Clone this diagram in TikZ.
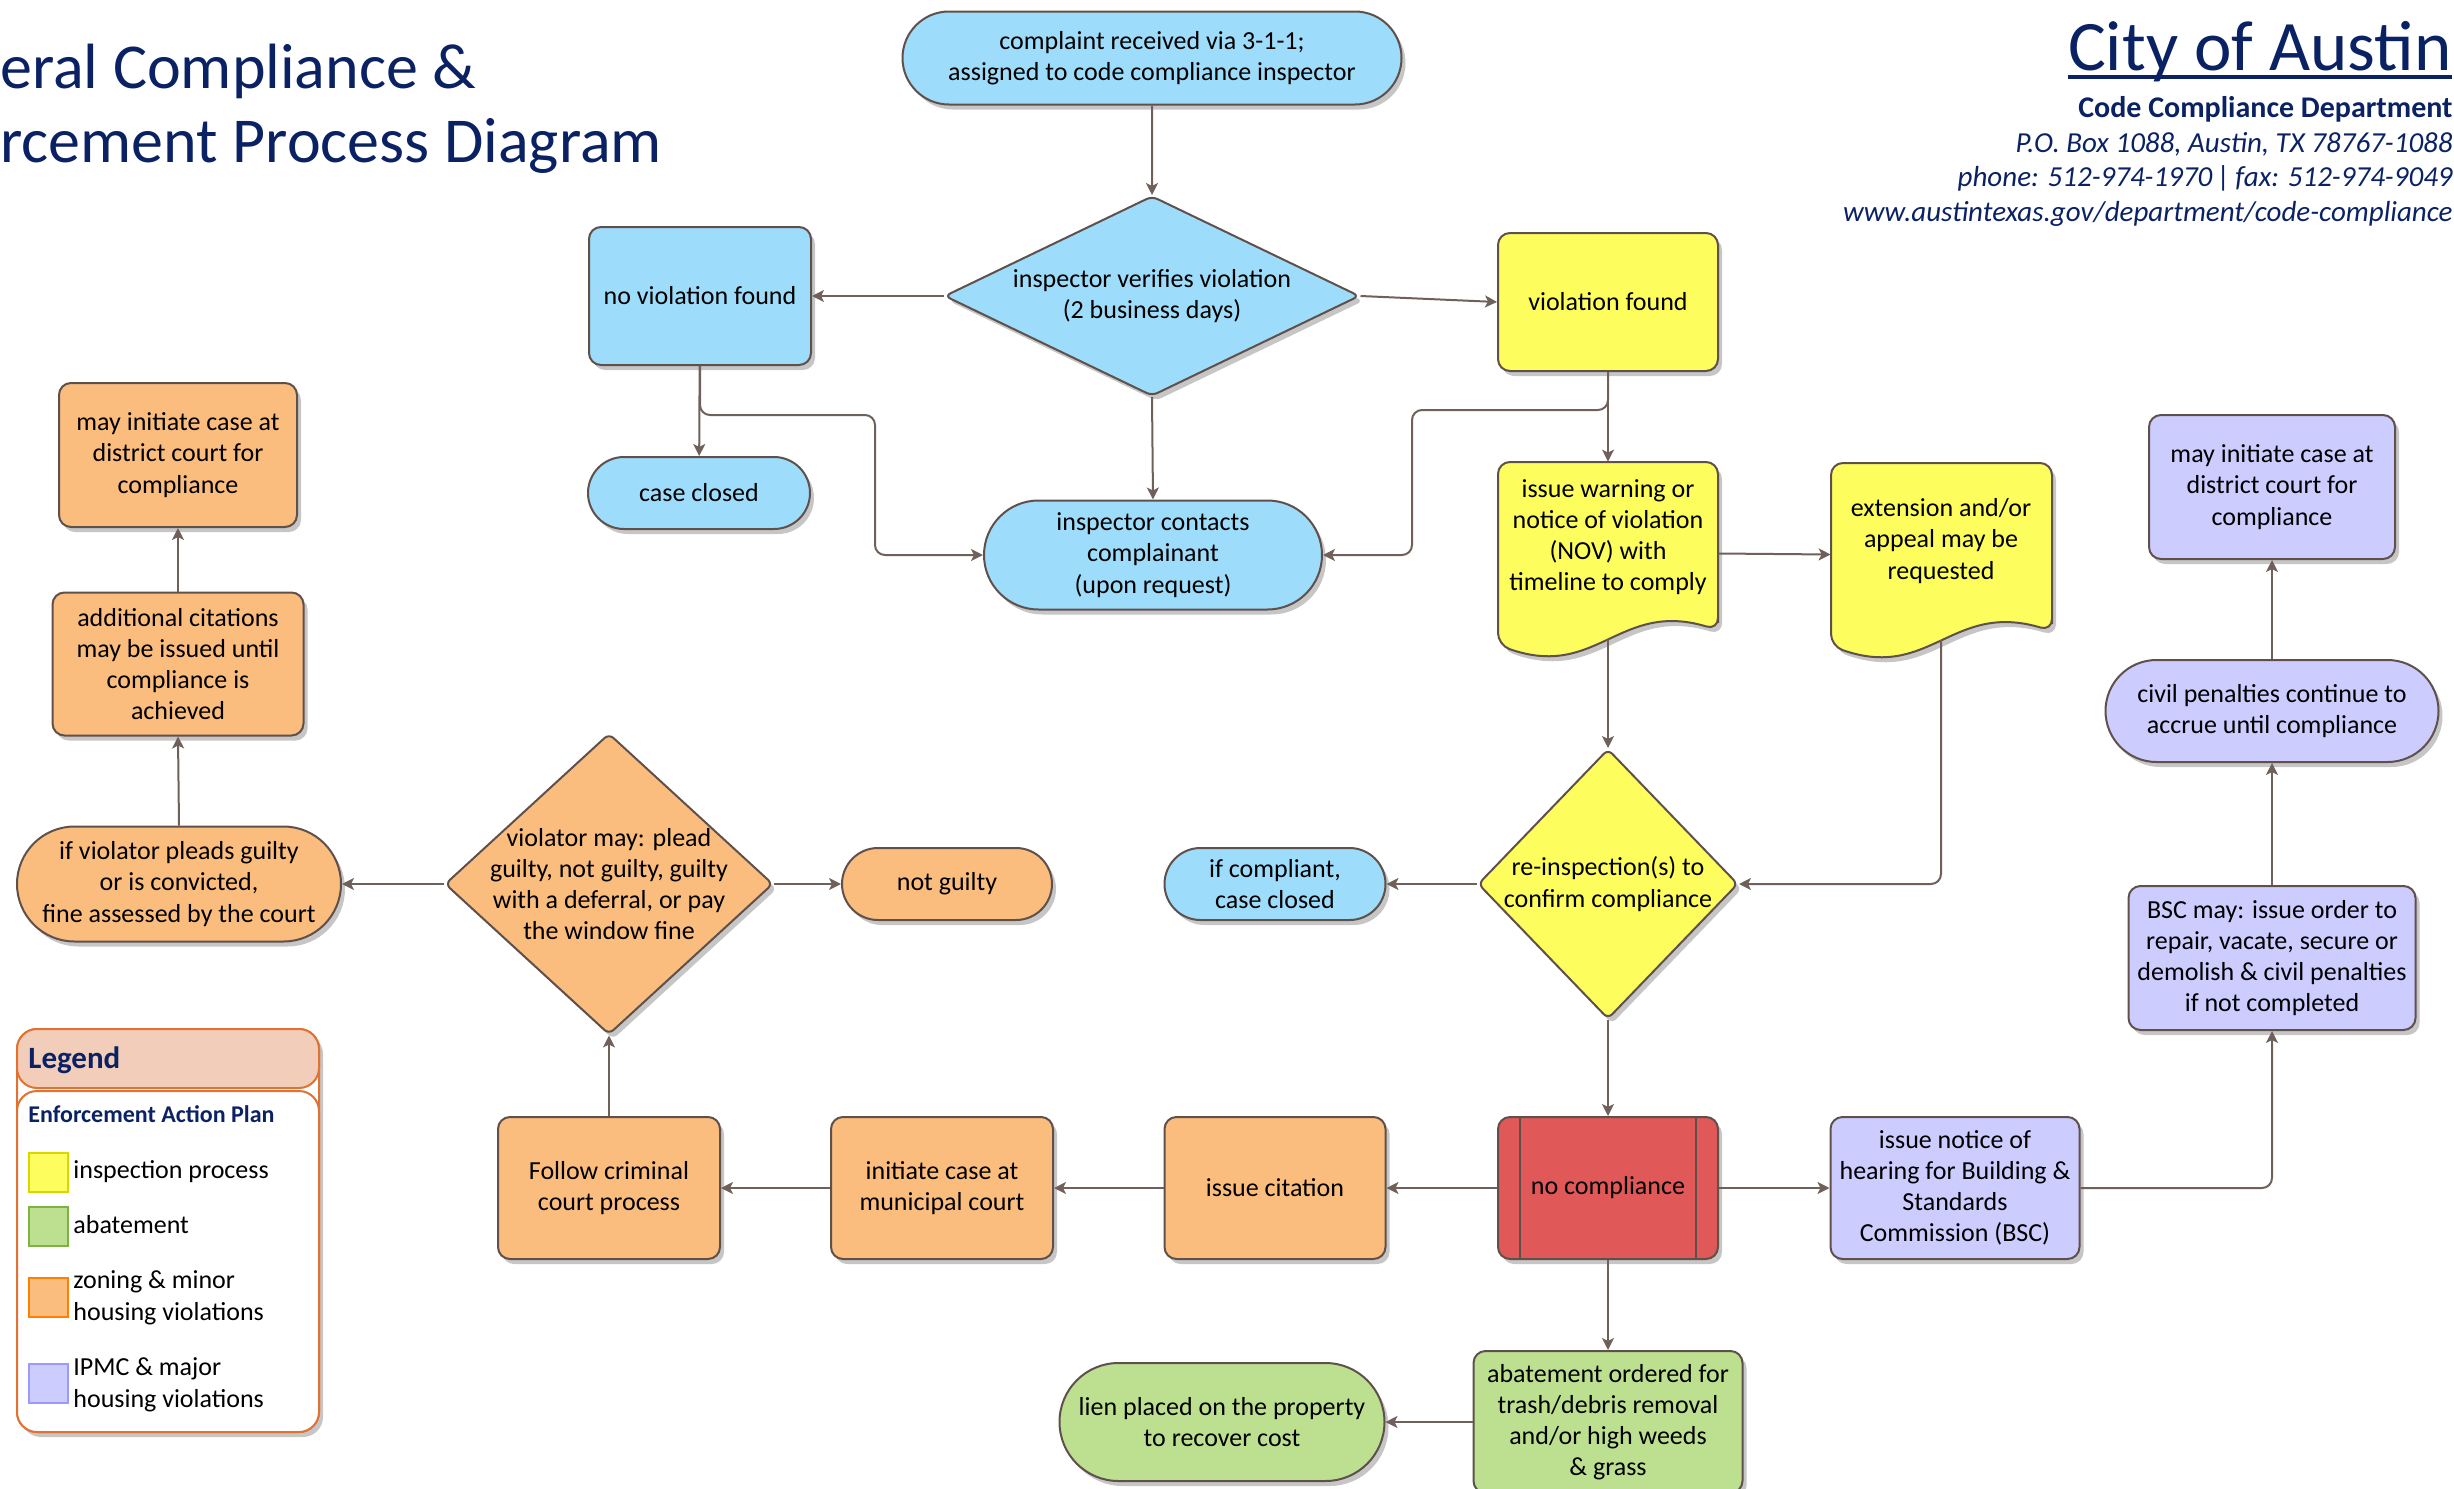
\documentclass[tikz,border=0pt]{standalone}
\usepackage{fontspec}
\setmainfont{Carlito}
\usetikzlibrary{shapes.geometric,shapes.misc,arrows.meta,shadows}
\definecolor{navy}{RGB}{10,34,100}
\definecolor{bord}{RGB}{95,80,75}
\definecolor{conn}{RGB}{112,96,90}
\definecolor{cblue}{RGB}{157,220,250}
\definecolor{cyellow}{RGB}{253,253,94}
\definecolor{corange}{RGB}{251,189,125}
\definecolor{clav}{RGB}{204,204,255}
\definecolor{cgreen}{RGB}{188,224,143}
\definecolor{cred}{RGB}{224,88,88}
\definecolor{lgorange}{RGB}{226,114,50}
\definecolor{lgpeach}{RGB}{242,206,186}
\begin{document}
\begin{tikzpicture}[x=0.5pt,y=-0.5pt,
  shad/.style={drop shadow={shadow xshift=2pt,shadow yshift=-2.5pt,fill=gray,opacity=0.45}},
  base/.style={draw=bord, line width=1pt, align=center, inner sep=0pt,
    font=\fontsize{13}{15.6}\selectfont, shad},
  box/.style={base, rectangle, rounded corners=6pt},
  pill/.style={base, rounded rectangle},
  dia/.style={base, diamond, rounded corners=3pt},
  sz/.style 2 args={minimum width=#1*0.5pt, minimum height=#2*0.5pt},
  txt/.style={align=center, inner sep=0pt, font=\fontsize{13}{15.6}\selectfont},
  arr/.style={draw=conn, line width=1pt, -{Stealth[length=6pt,width=6pt,inset=1.5pt]}},
  docst/.style={draw=bord, line width=1pt, fill=cyellow, shad},
  lgtxt/.style={anchor=base west, inner sep=0pt, font=\fontsize{13}{15.6}\selectfont},
  lgsq/.style={anchor=north west, inner sep=0pt, minimum size=19.5pt, line width=1pt},
  hdit/.style={anchor=base east, inner sep=0pt, text=navy, font=\itshape\fontsize{14.5}{17}\selectfont}
]
\useasboundingbox (0,0) rectangle (2454,1489);

% ---------- title and header ----------
\node[anchor=base west, inner sep=0pt, text=navy, font=\fontsize{32}{37}\selectfont] (t1) at (0,88) {eral Compliance \&};
\node[anchor=base west, inner sep=0pt, text=navy, font=\fontsize{32}{37}\selectfont] (t2) at (0,162) {rcement Process Diagram};

\node[anchor=base east, inner sep=0pt, text=navy, font=\fontsize{35.5}{40}\selectfont] (city) at (2452,70) {City of Austin};
\draw[navy, line width=1.6pt] ([yshift=-3.5pt]city.base west) -- ([yshift=-3.5pt]city.base east);
\node[anchor=base east, inner sep=0pt, text=navy, font=\bfseries\fontsize{15}{18}\selectfont] (dept) at (2453,117) {Code Compliance Department};
\node[hdit] (addr) at (2453,152) {P.O. Box 1088, Austin, TX 78767-1088};
\node[hdit] (phone) at (2453,186) {phone: 512-974-1970\,|\,fax: 512-974-9049};
\node[hdit] (web) at (2453,221) {www.austintexas.gov/department/code-compliance};

% ---------- nodes ----------
\node[pill, fill=cblue, sz={499}{93}] (complaint) at (1152,58) {complaint received via 3-1-1;\\assigned to code compliance inspector};
\node[dia, fill=cblue, sz={415}{200}] (verify) at (1152,296) {};
\node[txt] (verifyt) at (1152,296) {inspector verifies violation\\(2 business days)};
\node[box, fill=cblue, sz={222}{138}] (nv) at (700,296) {no violation found};
\node[box, fill=cyellow, sz={220}{138}] (vf) at (1608,302) {violation found};
\node[pill, fill=cblue, sz={222}{72}] (cc) at (699,493) {case closed};
\node[pill, fill=cblue, sz={338}{109}] (contacts) at (1153,555) {inspector contacts\\complainant\\(upon request)};

% document shapes
\path[docst, rounded corners=6pt] (1718,630) -- (1718,462) -- (1498,462) -- (1498,645) .. controls (1597,680) and (1619,600) .. (1718,630) -- cycle;
\node[inner sep=0pt, sz={220}{183}] (nov) at (1608,553.5) {};
\node[txt] (novt) at (1608,537) {issue warning or\\notice of violation\\(NOV) with\\timeline to comply};
\path[docst, rounded corners=6pt] (2052,631) -- (2052,463) -- (1831,463) -- (1831,646) .. controls (1930,681) and (1952,601) .. (2052,631) -- cycle;
\node[inner sep=0pt, sz={221}{183}] (ext) at (1941.5,554.5) {};
\node[txt] (extt) at (1941,541) {extension and/or\\appeal may be\\requested};
\coordinate (novb) at (1608,639);
\coordinate (extb) at (1941,640);

\node[dia, fill=cyellow, sz={260}{270}] (reinsp) at (1608,884) {};
\node[txt] (reinspt) at (1608,884) {re-inspection(s) to\\confirm compliance};
\node[pill, fill=cblue, sz={221}{72}] (ifc) at (1275,884) {if compliant,\\case closed};

\node[box, fill=cred, sz={220}{142}] (noc) at (1608,1188) {no compliance};
\draw[bord, line width=1pt] ([xshift=11.5pt]noc.north west) -- ([xshift=11.5pt]noc.south west);
\draw[bord, line width=1pt] ([xshift=-11.5pt]noc.north east) -- ([xshift=-11.5pt]noc.south east);

\node[box, fill=clav, sz={249}{142}] (bscn) at (1955,1188) {issue notice of\\hearing for Building \&\\Standards\\Commission (BSC)};
\node[box, fill=clav, sz={287}{144}] (bscm) at (2272,958) {BSC may: issue order to\\repair, vacate, secure or\\demolish \& civil penalties\\if not completed};
\node[pill, fill=clav, sz={333}{102}] (civil) at (2272,711) {civil penalties continue to\\accrue until compliance};
\node[box, fill=clav, sz={246}{144}] (dcR) at (2272,487) {may initiate case at\\district court for\\compliance};

\node[box, fill=cgreen, sz={269}{142}] (abat) at (1608,1422) {abatement ordered for\\trash/debris removal\\and/or high weeds\\\& grass};
\node[pill, fill=cgreen, sz={325}{118}] (lien) at (1222,1422) {lien placed on the property\\to recover cost};

\node[box, fill=corange, sz={221}{142}] (cit) at (1275,1188) {issue citation};
\node[box, fill=corange, sz={222}{142}] (muni) at (942,1188) {initiate case at\\municipal court};
\node[box, fill=corange, sz={222}{142}] (crim) at (609,1188) {Follow criminal\\court process};
\node[dia, fill=corange, sz={328}{301}] (violator) at (609,884) {};
\node[txt] (violatort) at (609,884) {violator may: plead\\guilty, not guilty, guilty\\with a deferral, or pay\\the window fine};
\node[pill, fill=corange, sz={210}{72}] (ng) at (947,884) {not guilty};
\node[pill, fill=corange, sz={324}{115}] (guilty) at (179,884) {if violator pleads guilty\\or is convicted,\\fine assessed by the court};
\node[box, fill=corange, sz={251}{143}] (addl) at (178,664) {additional citations\\may be issued until\\compliance is\\achieved};
\node[box, fill=corange, sz={238}{144}] (dcL) at (178,455) {may initiate case at\\district court for\\compliance};

% ---------- connectors ----------
\draw[arr] (complaint) -- (verify);
\draw[arr] (verify.west) -- (nv.east);
\draw[arr] (verify.east) -- (vf.west);
\draw[arr] (verify.south) -- (contacts.north);
\draw[arr] (nv) -- (cc);
\draw[arr, rounded corners=5pt] (nv.south) |- (875,415) |- (contacts.west);
\draw[arr] (vf.south) -- (nov.north);
\draw[arr, rounded corners=5pt] (vf.south) |- (1412,410) |- (contacts.east);
\draw[arr] (nov.east) -- (ext.west);
\draw[arr] (novb) -- (reinsp.north);
\draw[arr, rounded corners=5pt] (extb) |- (reinsp.east);
\draw[arr] (reinsp.west) -- (ifc.east);
\draw[arr] (reinsp.south) -- (noc.north);
\draw[arr] (noc.east) -- (bscn.west);
\draw[arr, rounded corners=5pt] (bscn.east) -| (bscm.south);
\draw[arr] (bscm.north) -- (civil.south);
\draw[arr] (civil.north) -- (dcR.south);
\draw[arr] (noc.south) -- (abat.north);
\draw[arr] (abat.west) -- (lien.east);
\draw[arr] (noc.west) -- (cit.east);
\draw[arr] (cit.west) -- (muni.east);
\draw[arr] (muni.west) -- (crim.east);
\draw[arr] (crim.north) -- (violator.south);
\draw[arr] (violator.east) -- (ng.west);
\draw[arr] (violator.west) -- (guilty.east);
\draw[arr] (guilty.north) -- (addl.south);
\draw[arr] (addl.north) -- (dcL.south);

% ---------- legend ----------
\draw[lgorange, line width=1pt, fill=white, rounded corners=10pt, shad] (17,1029) rectangle (319,1432);
\draw[lgorange, line width=1pt, fill=lgpeach, rounded corners=10pt] (17,1029) rectangle (319,1088);
\draw[lgorange, line width=1pt, fill=white, rounded corners=10pt] (17,1091) rectangle (319,1432);
\node[anchor=base west, inner sep=0pt, text=navy, font=\bfseries\fontsize{15.5}{18}\selectfont] (lgh) at (28,1068) {Legend};
\node[anchor=base west, inner sep=0pt, text=navy, font=\bfseries\fontsize{12}{14}\selectfont] (lgs) at (28,1122) {Enforcement Action Plan};
\node[lgsq, draw={rgb,255:red,216;green,216;blue,0}, fill=cyellow] (sqY) at (28,1152) {};
\node[lgsq, draw={rgb,255:red,124;green,179;blue,66}, fill=cgreen] (sqG) at (28,1206) {};
\node[lgsq, draw={rgb,255:red,255;green,128;blue,0}, fill=corange] (sqO) at (28,1277) {};
\node[lgsq, draw={rgb,255:red,153;green,153;blue,255}, fill=clav] (sqL) at (28,1363) {};
\node[lgtxt] (l1) at (73,1178) {inspection process};
\node[lgtxt] (l2) at (73,1233) {abatement};
\node[lgtxt] (l3a) at (73,1288) {zoning \& minor};
\node[lgtxt] (l3b) at (73,1320) {housing violations};
\node[lgtxt] (l4a) at (73,1375) {IPMC \& major};
\node[lgtxt] (l4b) at (73,1407) {housing violations};
\end{tikzpicture}
\end{document}
